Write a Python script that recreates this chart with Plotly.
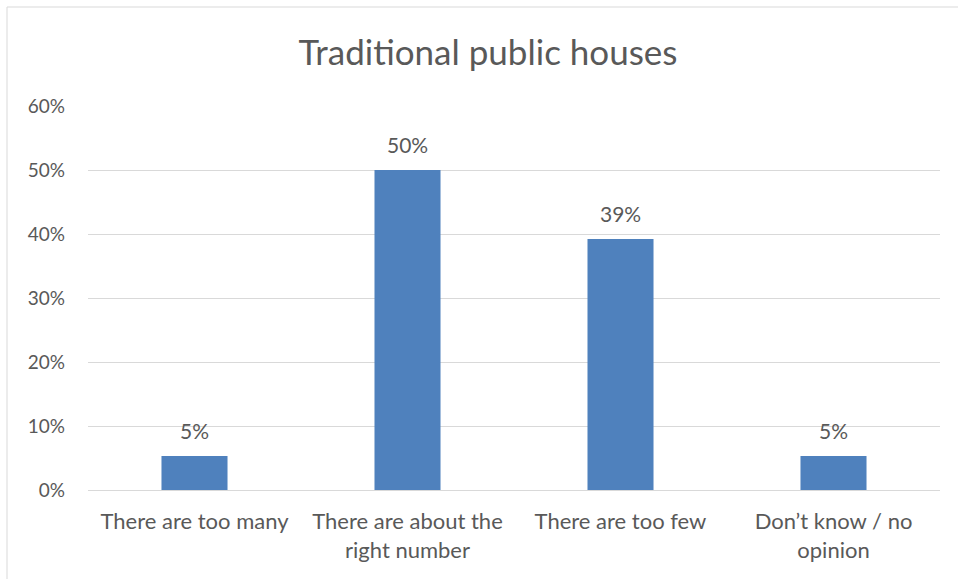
import plotly.graph_objects as go

categories = ["There are too many", "There are about the<br>right number", "There are too few", "Don’t know / no<br>opinion"]
values = [0.053, 0.50, 0.392, 0.053]
labels = ["5%", "50%", "39%", "5%"]
tick_vals = [0, 0.1, 0.2, 0.3, 0.4, 0.5, 0.6]
tick_text = ["0%", "10%", "20%", "30%", "40%", "50%", "60%"]

FONT = "Lato, Carlito, Calibri, sans-serif"
GREY = "#595959"

fig = go.Figure(go.Bar(
    x=categories, y=values,
    marker=dict(color="#4F81BD", line=dict(width=0)),
    hoverinfo="skip",
))

annotations = [
    dict(x=c, y=v, text=t, xref="x", yref="y", showarrow=False,
         yanchor="bottom", yshift=11, font=dict(size=21, color=GREY, family=FONT))
    for c, v, t in zip(categories, values, labels)
]

fig.update_layout(
    width=958, height=579,
    margin=dict(l=88, r=18, t=106, b=89),
    paper_bgcolor="white", plot_bgcolor="white",
    title=dict(text="Traditional public houses", x=488/958, xanchor="center",
               y=1 - 53/579, yanchor="middle",
               font=dict(size=35, color=GREY, family=FONT)),
    bargap=0.69,
    showlegend=False,
    font=dict(family=FONT, color=GREY, size=21),
    xaxis=dict(showgrid=False, showline=False, ticks="", ticklabelstandoff=16,
               tickfont=dict(size=22, color=GREY)),
    yaxis=dict(range=[0, 0.6], tickvals=tick_vals, ticktext=tick_text,
               showgrid=True, gridcolor="#d9d9d9", gridwidth=1,
               zeroline=True, zerolinecolor="#d9d9d9", zerolinewidth=1,
               showline=False, ticks="", ticklabelstandoff=22,
               tickfont=dict(size=19, color=GREY)),
    annotations=annotations,
    shapes=[dict(type="rect", xref="paper", yref="paper",
                 x0=(7-88)/852, x1=1.1, y0=-0.6, y1=(490-7)/384,
                 line=dict(color="#d9d9d9", width=1), layer="below")],
)

fig.write_html("out.html", config={"displayModeBar": False},
               post_script="document.body.style.margin='0';document.body.style.overflow='hidden';")
